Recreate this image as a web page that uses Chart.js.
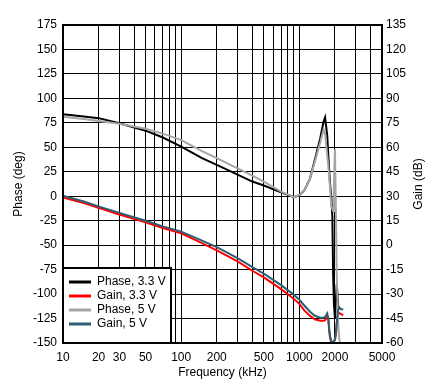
<!DOCTYPE html>
<html>
<head>
<meta charset="utf-8">
<script src="https://cdn.jsdelivr.net/npm/chart.js@4.4.1/dist/chart.umd.min.js"></script>
<style>
  body { margin: 0; background: #fff; }
</style>
</head>
<body>
<canvas id="grafico" width="438" height="391"></canvas>
<script>
// Frequency points (kHz)
const freqKHz = [10, 15, 20, 30, 50, 70, 100, 150, 200, 300, 400, 500, 700, 900, 1000, 1100,
    1230, 1350, 1500, 1600, 1650, 1720, 1760, 1790, 1820, 1860, 1900, 1930, 1960, 2000,
    2040, 2070, 2100, 2130, 2170, 2210, 2280, 2350];

// Phase (deg), left axis
const phase33 = [83.7, 81.5, 79.8, 74.5, 67, 60, 50.6, 39, 32, 22, 15, 11, 4, -1, 1, 6,
    18, 37, 59, 76, 80.5, 62, 40, 25, 12, 0, -20, -80, -110, -125,
    -105, -90, -100, -112, -114, -115, null, null];
const phase5 = [81.3, 79, 77, 74, 69, 64, 57.4, 46, 39, 28.5, 21, 15, 4.6, -1, 1, 6,
    18, 35, 55, 68.4, 64, 42, 30, 18, 8, -10, -13, -15, 15, 48,
    -20, -80, -105, -130, -145, -150, null, null];

// Gain (dB), right axis
const gain33 = [29.3, 25.8, 22.9, 18.8, 14, 10.5, 7.3, 1.2, -3.2, -10, -15.7, -19.8, -27, -33, -36, -40,
    -43.4, -45.5, -46.3, -46.3, -46, -43.9, -46, -53, -57, -59.5, -59.5, -59.5, -59.5, -58,
    -54, -48, -44, -42, -41.5, -42, -42.5, -43];
const gain5 = [30.3, 26.8, 23.8, 19.8, 15, 11.5, 8.3, 2.8, -1.2, -8, -13.5, -17.5, -24.5, -30.5, -33.5, -37,
    -40.8, -43.3, -44.5, -44.5, -44, -41.8, -45, -52, -56, -59.2, -59.2, -59.2, -59.2, -58,
    -53, -48, -43, -39.3, -38.8, -39, -39.3, -39.5];

// Axis grid / labels
const freqGrid = [10, 20, 30, 40, 50, 60, 70, 80, 90, 100, 200, 300, 400, 500, 600, 700, 800, 900,
    1000, 2000, 3000, 4000, 5000];
const freqLabels = [10, 20, 30, 50, 100, 200, 500, 1000, 2000, 5000];

const FUENTE = "'Liberation Sans', Arial, sans-serif";
Chart.defaults.font.family = FUENTE;
Chart.defaults.font.size = 12;
Chart.defaults.color = '#000';

function puntos(valores) {
    return freqKHz.map((f, i) => ({ x: f, y: valores[i] }));
}

// frame, legend box and right axis title
const extras = {
    id: 'extras',
    afterDatasetsDraw(chart) {
        const { ctx, chartArea: a } = chart;
        ctx.save();
        ctx.strokeStyle = '#000';
        ctx.lineWidth = 2;
        ctx.strokeRect(a.left, a.top, a.right - a.left, a.bottom - a.top);

        const bw = 108, bh = 75;
        const bx = a.left, by = a.bottom - bh;
        ctx.fillStyle = '#fff';
        ctx.fillRect(bx, by, bw, bh);
        ctx.strokeRect(bx, by, bw, bh);

        ctx.font = '12px ' + FUENTE;
        ctx.textBaseline = 'middle';
        ctx.textAlign = 'left';
        chart.data.datasets.forEach((d, i) => {
            const y = by + 14 + i * 14;
            ctx.strokeStyle = d.borderColor;
            ctx.lineWidth = 3;
            ctx.beginPath();
            ctx.moveTo(bx + 6, y);
            ctx.lineTo(bx + 28, y);
            ctx.stroke();
            ctx.fillStyle = '#000';
            ctx.fillText(d.label, bx + 34, y);
        });

        ctx.translate(419, (a.top + a.bottom) / 2);
        ctx.rotate(-Math.PI / 2);
        ctx.textAlign = 'center';
        ctx.fillText('Gain (dB)', 0, 0);
        ctx.restore();
    }
};

new Chart(document.getElementById('grafico'), {
    type: 'line',
    data: {
        datasets: [
            { label: 'Phase, 3.3 V', data: puntos(phase33), borderColor: '#000000', yAxisID: 'y', order: 4 },
            { label: 'Gain, 3.3 V', data: puntos(gain33), borderColor: '#ff0000', yAxisID: 'y2', order: 3 },
            { label: 'Phase, 5 V', data: puntos(phase5), borderColor: '#a6a6a6', yAxisID: 'y', order: 2 },
            { label: 'Gain, 5 V', data: puntos(gain5), borderColor: '#2b5f75', yAxisID: 'y2', order: 1 }
        ]
    },
    options: {
        responsive: false,
        animation: false,
        events: [],
        elements: {
            line: { borderWidth: 2, tension: 0 },
            point: { radius: 0 }
        },
        layout: { padding: { top: 25, left: 0, right: 0, bottom: 0 } },
        plugins: {
            legend: { display: false },
            tooltip: { enabled: false }
        },
        scales: {
            x: {
                type: 'logarithmic',
                min: 10,
                max: 5000,
                afterBuildTicks: (s) => { s.ticks = freqGrid.map(v => ({ value: v })); },
                afterFit: (s) => { s.height = 48; },
                ticks: {
                    autoSkip: false,
                    maxRotation: 0,
                    padding: 7,
                    callback: (v) => freqLabels.includes(v) ? String(v) : ''
                },
                grid: { color: '#000', lineWidth: 1, drawTicks: false },
                border: { display: false },
                title: { display: true, text: 'Frequency (kHz)', padding: { top: 0, bottom: 11 } }
            },
            y: {
                position: 'left',
                min: -150,
                max: 175,
                afterFit: (s) => { s.width = 63; },
                ticks: { stepSize: 25, padding: 6 },
                grid: { color: '#000', lineWidth: 1, drawTicks: false },
                border: { display: false },
                title: { display: true, text: 'Phase (deg)', padding: { top: 11, bottom: 0 } }
            },
            y2: {
                position: 'right',
                min: -60,
                max: 135,
                afterFit: (s) => { s.width = 56; },
                ticks: { stepSize: 15, padding: 4 },
                grid: { display: false, drawTicks: false },
                border: { display: false }
            }
        }
    },
    plugins: [extras]
});
</script>
</body>
</html>
